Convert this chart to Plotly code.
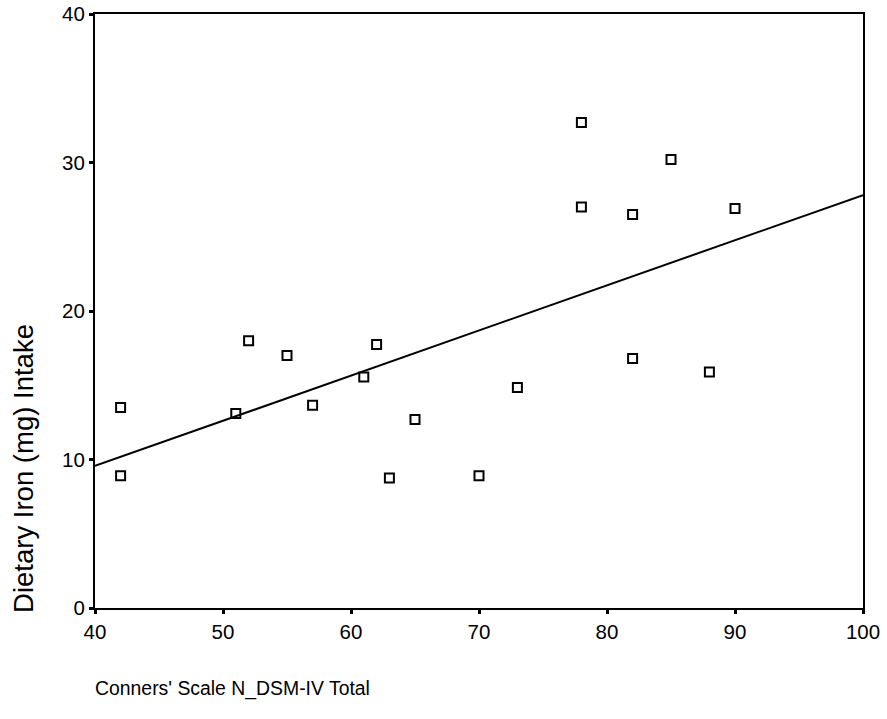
import numpy as np
import plotly.graph_objects as go

conners_total = [42, 42, 51, 52, 55, 57, 61, 62, 63, 65, 70, 73, 78, 78, 82, 82, 85, 88, 90]
iron_intake = [13.5, 8.9, 13.1, 18.0, 17.0, 13.65, 15.55, 17.75, 8.75, 12.7, 8.9, 14.85,
               32.7, 27.0, 26.5, 16.8, 30.2, 15.9, 26.9]
x_ticks = [40, 50, 60, 70, 80, 90, 100]
y_ticks = [0, 10, 20, 30, 40]
x_range = [40, 100]
y_range = [0, 40]

slope, intercept = np.polyfit(conners_total, iron_intake, 1)
fit_x = np.array(x_range, dtype=float)
fit_y = intercept + slope * fit_x

FONT = "Arial, Liberation Sans, sans-serif"

fig = go.Figure()
fig.add_trace(go.Scatter(
    x=fit_x, y=fit_y, mode="lines",
    line=dict(color="black", width=2), hoverinfo="skip", showlegend=False,
))
fig.add_trace(go.Scatter(
    x=conners_total, y=iron_intake, mode="markers",
    marker=dict(symbol="square-open", size=9, color="black", line=dict(width=2, color="black")),
    showlegend=False,
))

fig.update_layout(
    width=887, height=719,
    margin=dict(l=95, r=24, t=14, b=111),
    paper_bgcolor="white", plot_bgcolor="white",
    font=dict(family=FONT, size=20, color="black"),
    xaxis=dict(
        range=x_range, tickvals=x_ticks, ticks="outside", ticklen=4, tickwidth=3,
        tickcolor="black", showline=True, linecolor="black", linewidth=2,
        mirror=True, showgrid=False, zeroline=False, tickfont=dict(size=20.5),
        automargin=False,
    ),
    yaxis=dict(
        range=y_range, tickvals=y_ticks, ticks="outside", ticklen=4, tickwidth=3,
        tickcolor="black", showline=True, linecolor="black", linewidth=2,
        mirror=True, showgrid=False, zeroline=False, tickfont=dict(size=20.5),
        automargin=False,
    ),
    annotations=[
        dict(text="Conners' Scale N_DSM-IV Total", xref="paper", yref="paper",
             x=-0.003, y=-0.135, xanchor="left", yanchor="middle", showarrow=False,
             font=dict(size=19.4, family=FONT)),
        dict(text="Dietary Iron (mg) Intake", xref="paper", yref="paper",
             x=-0.094, y=0.2355, xanchor="center", yanchor="middle", showarrow=False,
             textangle=-90, font=dict(size=27.5, family=FONT)),
    ],
)

fig.write_html("out.html")
